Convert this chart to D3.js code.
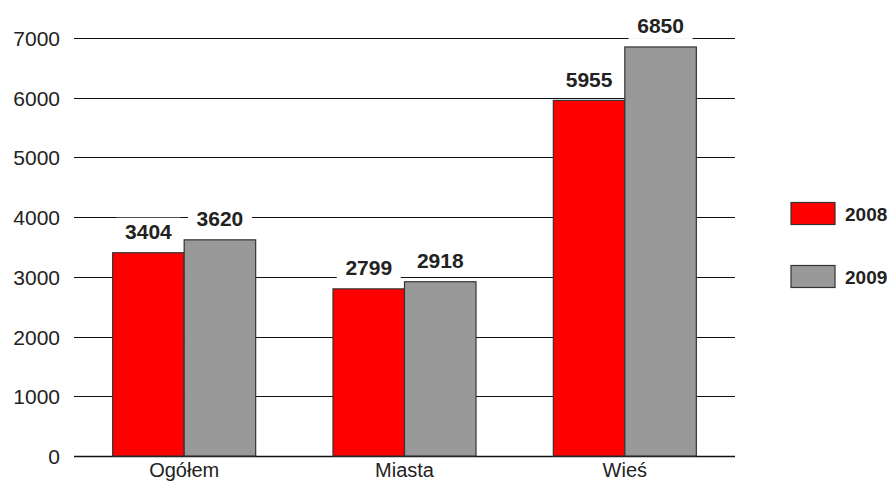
<!DOCTYPE html>
<html><head><meta charset="utf-8">
<script src="https://cdn.jsdelivr.net/npm/d3@7"></script>
<style>body{margin:0;background:#fff;}</style>
</head><body>
<svg id="c" width="893" height="482"></svg>
<script>
const categories = ["Ogółem", "Miasta", "Wieś"];
const seriesNames = ["2008", "2009"];
const values2008 = [3404, 2799, 5955];
const values2009 = [3620, 2918, 6850];
const yTicks = [0, 1000, 2000, 3000, 4000, 5000, 6000, 7000];
const colors = ["#ff0000", "#999999"];

(function(){
const svg = d3.select("#c");
const font = "Liberation Sans, Arial, Helvetica, sans-serif";
const mLeft = 74, mRight = 735, mTop = 38, mBottom = 456;
const x = d3.scaleBand().domain(categories).range([mLeft, mRight]).paddingInner(0).paddingOuter(0);
const y = d3.scaleLinear().domain([0, 7000]).range([mBottom, mTop]);
const bw = 71.5;
const innerX = d3.scaleBand().domain(seriesNames).range([x.bandwidth()/2 - bw, x.bandwidth()/2 + bw]);

svg.append("g").selectAll("line").data(yTicks).join("line")
  .attr("x1", mLeft).attr("x2", mRight)
  .attr("y1", d => Math.round(y(d)) + 0.5).attr("y2", d => Math.round(y(d)) + 0.5)
  .attr("stroke", "#111").attr("stroke-width", d => d === 0 ? 1.5 : 1);

svg.append("g").selectAll("text").data(yTicks).join("text")
  .attr("x", 60).attr("y", d => y(d) + 8)
  .attr("text-anchor", "end")
  .attr("font-family", font)
  .attr("font-size", 21).attr("fill", "#222")
  .text(d => d);

const data = categories.map((c, i) => ({cat: c, vals: [values2008[i], values2009[i]]}));

const groups = svg.append("g").selectAll("g").data(data).join("g")
  .attr("transform", d => `translate(${x(d.cat)},0)`);

groups.selectAll("rect.bar").data(d => d.vals.map((v, j) => ({v, s: seriesNames[j], j}))).join("rect")
  .attr("class", "bar")
  .attr("x", d => innerX(d.s)).attr("width", innerX.bandwidth())
  .attr("y", d => y(d.v)).attr("height", d => y(0) - y(d.v))
  .attr("fill", d => colors[d.j]).attr("stroke", "#333").attr("stroke-width", 1.2);

const lbl = groups.selectAll("g.lbl").data(d => d.vals.map((v, j) => ({v, s: seriesNames[j], j}))).join("g").attr("class", "lbl");
lbl.append("rect")
  .attr("x", d => innerX(d.s) + innerX.bandwidth()/2 - 32)
  .attr("y", d => y(d.v) - 35)
  .attr("width", 64).attr("height", 27).attr("fill", "#fff");
lbl.append("text")
  .attr("x", d => innerX(d.s) + innerX.bandwidth()/2)
  .attr("y", d => y(d.v) - 13.5)
  .attr("text-anchor", "middle")
  .attr("font-family", font)
  .attr("font-size", 21).attr("font-weight", "bold").attr("fill", "#222")
  .text(d => d.v);

svg.append("g").selectAll("text").data(categories).join("text")
  .attr("x", d => x(d) + x.bandwidth()/2).attr("y", 477)
  .attr("text-anchor", "middle")
  .attr("font-family", font)
  .attr("font-size", 20).attr("fill", "#222")
  .text(d => d);

const leg = svg.append("g").selectAll("g").data(seriesNames).join("g")
  .attr("transform", (d, i) => `translate(791,${202.5 + i * 63})`);
leg.append("rect").attr("width", 44).attr("height", 22)
  .attr("fill", (d, i) => colors[i]).attr("stroke", "#333").attr("stroke-width", 1.2);
leg.append("text").attr("x", 54).attr("y", 18)
  .attr("font-family", font)
  .attr("font-size", 19).attr("font-weight", "bold").attr("fill", "#222")
  .text(d => d);
})();
</script>
</body></html>
